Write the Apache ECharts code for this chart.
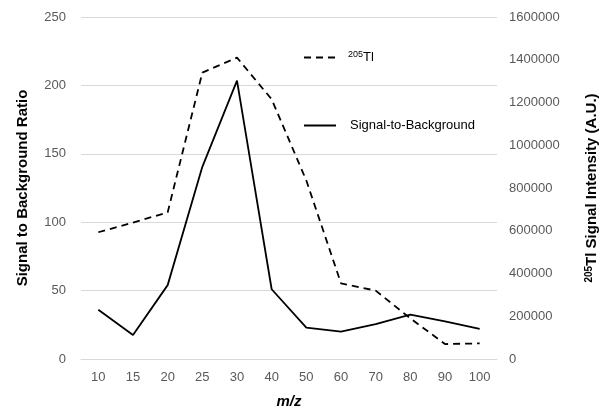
<!DOCTYPE html>
<html>
<head>
<meta charset="utf-8">
<script src="https://cdn.jsdelivr.net/npm/echarts@6/dist/echarts.min.js"></script>
<style>
  html, body { margin: 0; padding: 0; background: #fff; }
  #chart1 { width: 603px; height: 415px; }
</style>
</head>
<body>
<div id="chart1"></div>
<script>
    // m/z categories
    var mzLabels = ['10', '15', '20', '25', '30', '40', '50', '60', '70', '80', '90', '100'];
    // signal to background ratio (left axis)
    var sbRatio = [36, 17.5, 54, 140.5, 203.5, 51, 23, 20, 25.5, 32.5, 27.5, 22];
    // 205Tl signal intensity (right axis)
    var tlSignal = [593000, 638000, 686000, 1340000, 1410000, 1215000, 835000, 354000, 320000, 190000, 70000, 73000];

    var fontFam = '"Liberation Sans", Arial, sans-serif';

    var legendText = {
        fontFamily: fontFam,
        rich: {
            sup: { fontSize: 9, color: '#000', verticalAlign: 'top', padding: [0, 0, 6, 7], fontFamily: fontFam },
            n: { fontSize: 13, color: '#000', fontFamily: fontFam },
            n2: { fontSize: 13, color: '#000', padding: [0, 0, 0, 9], fontFamily: fontFam }
        }
    };

    var myChart = echarts.init(document.getElementById('chart1'));
    var option = {
        animation: false,
        backgroundColor: '#fff',
        textStyle: { fontFamily: fontFam },
        grid: {
            left: 81,
            right: 106,
            top: 17,
            bottom: 56,
            outerBoundsMode: 'none',
            containLabel: false
        },
        legend: [
            {
                left: 298,
                top: 45,
                itemWidth: 32,
                itemHeight: 12,
                itemStyle: { opacity: 0 },
                data: ['tl'],
                formatter: function () { return '{sup|205}{n|Tl}'; },
                textStyle: legendText
            },
            {
                left: 298,
                top: 114,
                itemWidth: 32,
                itemHeight: 12,
                itemStyle: { opacity: 0 },
                data: ['sb'],
                formatter: function () { return '{n2|Signal-to-Background}'; },
                textStyle: legendText
            }
        ],
        xAxis: {
            type: 'category',
            boundaryGap: true,
            data: mzLabels,
            name: 'm/z',
            nameLocation: 'middle',
            nameGap: 35,
            nameTextStyle: { fontSize: 15, fontWeight: 'bold', fontStyle: 'italic', color: '#000', fontFamily: fontFam },
            axisLine: { show: true, lineStyle: { color: '#d9d9d9', width: 1 } },
            axisTick: { show: false },
            axisLabel: { color: '#595959', fontSize: 13, margin: 12, fontFamily: fontFam }
        },
        yAxis: [
            {
                type: 'value',
                min: 0,
                max: 250,
                interval: 50,
                name: 'Signal to Background Ratio',
                nameLocation: 'middle',
                nameRotate: 90,
                nameGap: 51,
                nameTextStyle: { fontSize: 15, fontWeight: 'bold', color: '#000', fontFamily: fontFam },
                axisLine: { show: false },
                axisTick: { show: false },
                axisLabel: { color: '#595959', fontSize: 13, margin: 15, fontFamily: fontFam },
                splitLine: { show: true, lineStyle: { color: '#d9d9d9', width: 1 } }
            },
            {
                type: 'value',
                min: 0,
                max: 1600000,
                interval: 200000,
                position: 'right',
                name: '{sup|205}{b|Tl Signal Intensity (A.U.)}',
                nameLocation: 'middle',
                nameRotate: 90,
                nameGap: 87,
                nameTextStyle: {
                    fontFamily: fontFam,
                    rich: {
                        sup: { fontSize: 10, fontWeight: 'bold', color: '#000', verticalAlign: 'top', padding: [0, 0, 6, 0], fontFamily: fontFam },
                        b: { fontSize: 15, fontWeight: 'bold', color: '#000', fontFamily: fontFam }
                    }
                },
                axisLine: { show: false },
                axisTick: { show: false },
                axisLabel: {
                    color: '#595959', fontSize: 13, margin: 12, fontFamily: fontFam,
                    formatter: function (v) { return String(v); }
                },
                splitLine: { show: false }
            }
        ],
        series: [
            {
                name: 'tl',
                type: 'line',
                yAxisIndex: 1,
                data: tlSignal,
                symbol: 'none',
                lineStyle: { color: '#000', width: 1.8, type: [7, 5] },
                itemStyle: { color: '#000' }
            },
            {
                name: 'sb',
                type: 'line',
                yAxisIndex: 0,
                data: sbRatio,
                symbol: 'none',
                lineStyle: { color: '#000', width: 1.8 },
                itemStyle: { color: '#000' }
            }
        ]
    };
    myChart.setOption(option);
</script>
</body>
</html>
